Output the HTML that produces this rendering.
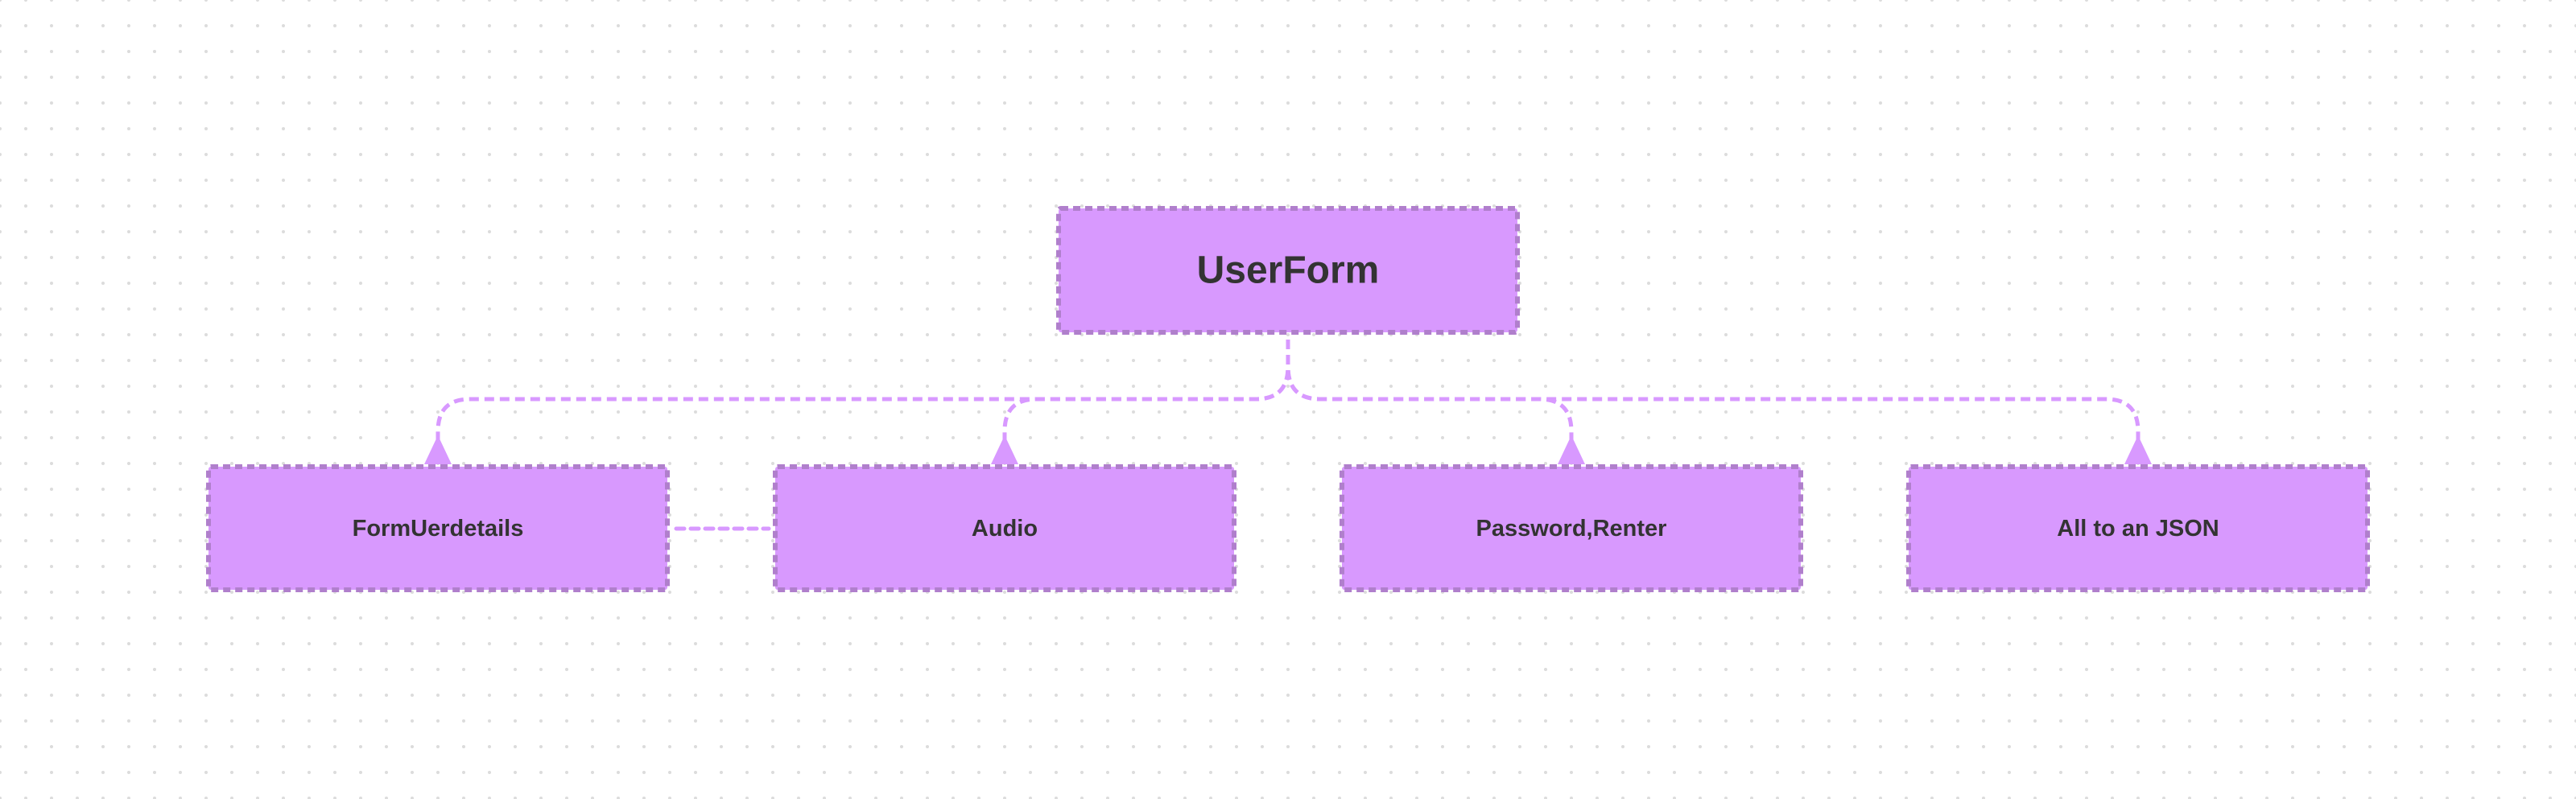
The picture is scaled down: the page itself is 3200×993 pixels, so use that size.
<!DOCTYPE html>
<html><head><meta charset="utf-8"><style>
html,body{margin:0;padding:0;background:#fff;}
svg{display:block;}
text{font-family:"Liberation Sans",sans-serif;font-weight:bold;fill:#333;text-anchor:middle;dominant-baseline:central;}
</style></head><body>
<svg width="3200" height="993" viewBox="0 0 3200 993" xmlns="http://www.w3.org/2000/svg">
<defs>
<pattern id="g" x="-16" y="-16" width="32" height="32" patternUnits="userSpaceOnUse">
<circle cx="16" cy="16" r="2" fill="#dcdcdc"/>
</pattern>
</defs>
<rect width="3200" height="993" fill="url(#g)"/>
<g fill="none" stroke="#d899ff" stroke-width="5" stroke-dasharray="12 7">
<path d="M1600 422 V456 Q1600 496 1560 496 H584 Q544 496 544 536 V546"/>
<path d="M1600 422 V456 Q1600 496 1560 496 H1288 Q1248 496 1248 536 V546"/>
<path d="M1600 422 V456 Q1600 496 1640 496 H1912 Q1952 496 1952 536 V546"/>
<path d="M1600 422 V456 Q1600 496 1640 496 H2616 Q2656 496 2656 536 V546"/>
<path d="M840 657 H955" stroke-linecap="round" stroke-dasharray="10 8"/>
</g>
<g fill="#d899ff">
<polygon points="544,541 527,577 561,577"/>
<polygon points="1248,541 1231,577 1265,577"/>
<polygon points="1952,541 1935,577 1969,577"/>
<polygon points="2656,541 2639,577 2673,577"/>
</g>
<g fill="#d899fe" stroke="#b07fcc" stroke-width="6" stroke-dasharray="9 6">
<rect x="1315" y="259" width="570" height="154" rx="3"/>
<rect x="259" y="580" width="570" height="153" rx="3"/>
<rect x="963" y="580" width="570" height="153" rx="3"/>
<rect x="1667" y="580" width="570" height="153" rx="3"/>
<rect x="2371" y="580" width="570" height="153" rx="3"/>
</g>
<text x="1600" y="336" font-size="48">UserForm</text>
<text x="544" y="657" font-size="29">FormUerdetails</text>
<text x="1248" y="657" font-size="29">Audio</text>
<text x="1952" y="657" font-size="29">Password,Renter</text>
<text x="2656" y="657" font-size="29">All to an JSON</text>
</svg>
</body></html>
